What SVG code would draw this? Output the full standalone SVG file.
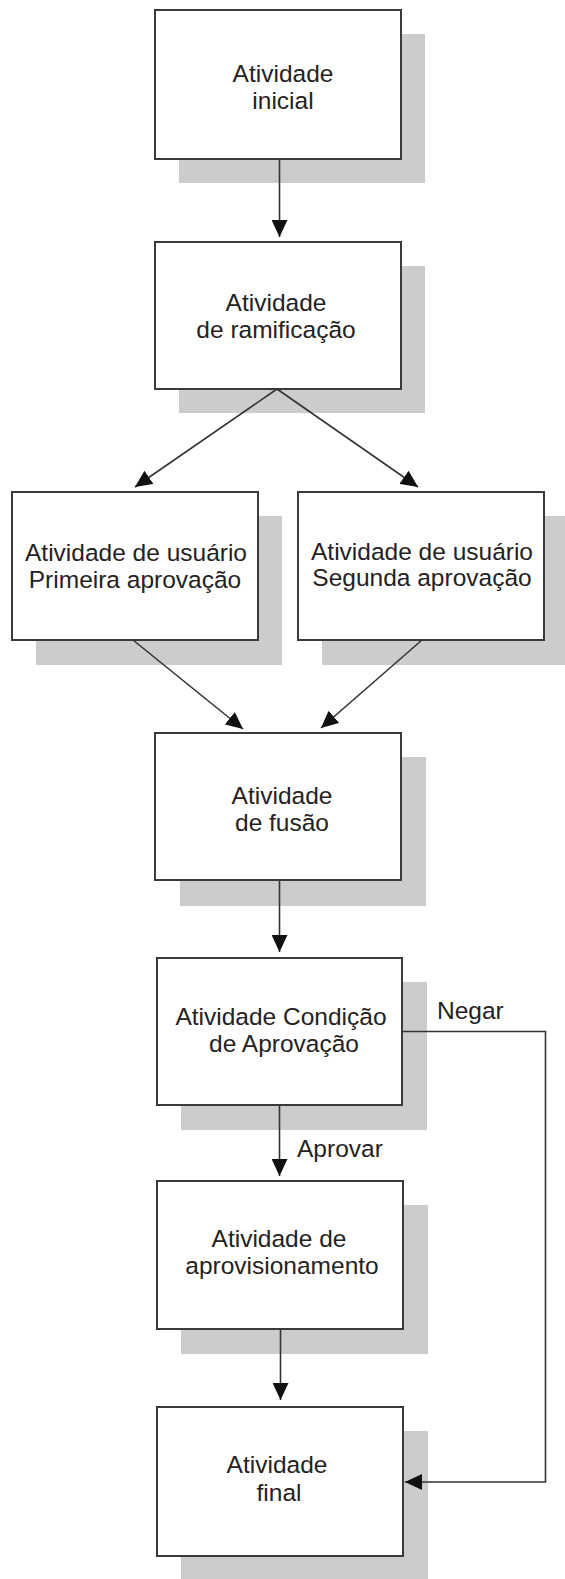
<svg xmlns="http://www.w3.org/2000/svg" width="565" height="1579" viewBox="0 0 565 1579">
<style>
.shadow{fill:#cccccc;stroke:none}
.box{fill:#ffffff;stroke:#3a3a3a;stroke-width:2}
.t{font-family:"Liberation Sans",Arial,sans-serif;font-size:24.5px;fill:#262222;text-anchor:middle}
.lbl{font-family:"Liberation Sans",Arial,sans-serif;font-size:24.5px;fill:#262222}
.c{fill:none;stroke:#333333;stroke-width:1.6}
</style>
<defs>
<marker id="ah" markerUnits="userSpaceOnUse" markerWidth="17" markerHeight="16" refX="17" refY="8" orient="auto">
<path d="M0,0 L17,8 L0,16 z" fill="#111111"/>
</marker>
</defs>
<rect width="565" height="1579" fill="#ffffff"/>

<g id="n1">
<rect class="shadow" x="179" y="34" width="246" height="149"/>
<rect class="box" x="155" y="10" width="246" height="149"/>
<text class="t" x="283" y="82">Atividade</text>
<text class="t" x="283" y="109">inicial</text>
</g>

<g id="n2">
<rect class="shadow" x="179" y="266" width="246" height="147"/>
<rect class="box" x="155" y="242" width="246" height="147"/>
<text class="t" x="276" y="311">Atividade</text>
<text class="t" x="276" y="338">de ramificação</text>
</g>

<g id="n3">
<rect class="shadow" x="36" y="516" width="246" height="149"/>
<rect class="box" x="12" y="492" width="246" height="148"/>
<text class="t" x="136" y="561">Atividade de usuário</text>
<text class="t" x="135" y="588">Primeira aprovação</text>
</g>

<g id="n4">
<rect class="shadow" x="322" y="516" width="246" height="149"/>
<rect class="box" x="298" y="492" width="246" height="148"/>
<text class="t" x="422" y="560">Atividade de usuário</text>
<text class="t" x="422" y="586">Segunda aprovação</text>
</g>

<g id="n5">
<rect class="shadow" x="180" y="757" width="246" height="149"/>
<rect class="box" x="155" y="733" width="246" height="147"/>
<text class="t" x="282" y="804">Atividade</text>
<text class="t" x="282" y="831">de fusão</text>
</g>

<g id="n6">
<rect class="shadow" x="181" y="982" width="246" height="148"/>
<rect class="box" x="157" y="958" width="245" height="147"/>
<text class="t" x="281" y="1025">Atividade Condição</text>
<text class="t" x="284" y="1052">de Aprovação</text>
</g>

<g id="n7">
<rect class="shadow" x="181" y="1205" width="247" height="149"/>
<rect class="box" x="157" y="1181" width="246" height="148"/>
<text class="t" x="279" y="1247">Atividade de</text>
<text class="t" x="282" y="1274">aprovisionamento</text>
</g>

<g id="n8">
<rect class="shadow" x="181" y="1431" width="247" height="149"/>
<rect class="box" x="157" y="1407" width="246" height="149"/>
<text class="t" x="277" y="1473">Atividade</text>
<text class="t" x="279" y="1501">final</text>
</g>

<g id="connectors">
<line class="c" x1="279.5" y1="160" x2="279.5" y2="237" marker-end="url(#ah)"/>
<line class="c" x1="277" y1="389" x2="135" y2="487" marker-end="url(#ah)"/>
<line class="c" x1="277" y1="389" x2="418" y2="487" marker-end="url(#ah)"/>
<line class="c" x1="133" y1="640" x2="243" y2="729" marker-end="url(#ah)"/>
<line class="c" x1="422" y1="640" x2="321" y2="728" marker-end="url(#ah)"/>
<line class="c" x1="279.5" y1="881" x2="279.5" y2="952" marker-end="url(#ah)"/>
<line class="c" x1="279.5" y1="1106" x2="279.5" y2="1176" marker-end="url(#ah)"/>
<line class="c" x1="280.5" y1="1330" x2="280.5" y2="1400" marker-end="url(#ah)"/>
<polyline class="c" points="402,1031.5 545.5,1031.5 545.5,1482 405,1482" marker-end="url(#ah)"/>
<text class="lbl" x="437" y="1019">Negar</text>
<text class="lbl" x="297" y="1157">Aprovar</text>
</g>
</svg>
